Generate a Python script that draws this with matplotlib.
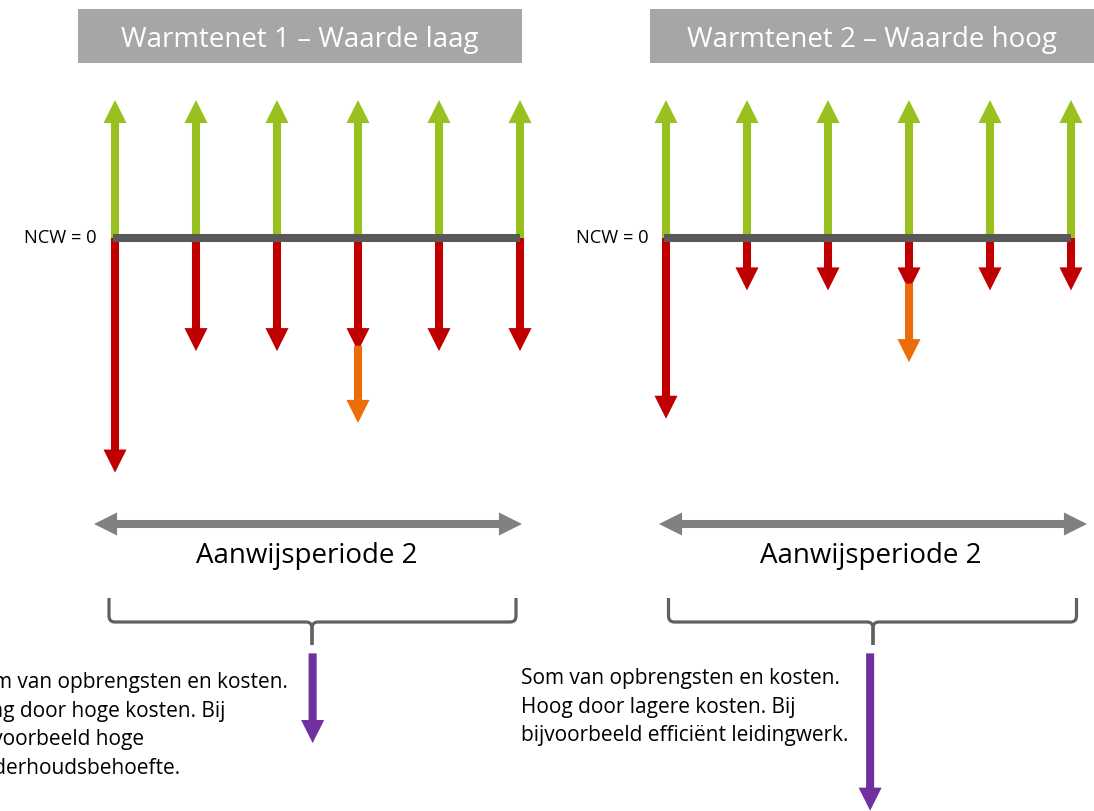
import matplotlib
matplotlib.use('Agg')
import matplotlib.pyplot as plt
from matplotlib.patches import FancyArrowPatch, ArrowStyle, Rectangle, PathPatch
from matplotlib.path import Path

plt.rcParams['font.family'] = ['Open Sans', 'DejaVu Sans']

# ---- data (cash flows per year, revenue = 100) ----
YEARS = [0, 1, 2, 3, 4, 5]
PANEL_TITLES = ['Warmtenet 1 – Waarde laag', 'Warmtenet 2 – Waarde hoog']
REVENUE = [[100, 100, 100, 100, 100, 100],
           [100, 100, 100, 100, 100, 100]]
COSTS = [[-170, -82, -82, -82, -82, -82],
         [-131, -38, -38, -38, -38, -38]]
EXTRA_YEAR = 3
EXTRA_FROM = [-78, -33]
EXTRA_TO = [-134, -90]
NCW_SUM = [-65, -114]
PERIOD_LABEL = 'Aanwijsperiode 2'
NOTES = [
    ['Som van opbrengsten en kosten.', 'Laag door hoge kosten. Bij',
     'bijvoorbeeld hoge', 'onderhoudsbehoefte.'],
    ['Som van opbrengsten en kosten.', 'Hoog door lagere kosten. Bij',
     'bijvoorbeeld efficiënt leidingwerk.'],
]

# ---- kleuren ----
GREEN = '#98c11f'
RED = '#c00000'
ORANGE = '#ec6c0c'
PURPLE = '#7030a0'
AXIS_GRAY = '#595959'
ARROW_GRAY = '#808080'
BRACE_GRAY = '#606060'
BOX_GRAY = '#a6a6a6'

# ---- layout (pixels) ----
W, H = 1094, 811
PX_YEAR = 81
PX_UNIT = 1.38
BASE_Y = 238
ORIGINS = [115, 666]
PANEL_SPAN = [(0, 547), (547, 1094)]
SUM_TOP = -301
SUM_X = [2.44, 2.52]

HEAD = ArrowStyle.Simple(head_length=16.6, head_width=16.6, tail_width=5.8)


def arrow(ax, p0, p1, color, z=2):
    ax.add_patch(FancyArrowPatch(p0, p1, arrowstyle=HEAD, mutation_scale=1,
                                 color=color, lw=0, shrinkA=0, shrinkB=0,
                                 zorder=z, clip_on=False))


def brace(ax, x0, x1, xm, ytop, ymid, ybot, r=6):
    for xe, s in ((x0, 1), (x1, -1)):
        verts = [(xe, ytop), (xe, ymid - r), (xe, ymid), (xe + s * r, ymid),
                 (xm - s * r, ymid), (xm, ymid), (xm, ymid + r), (xm, ybot)]
        codes = [Path.MOVETO, Path.LINETO, Path.CURVE3, Path.CURVE3,
                 Path.LINETO, Path.CURVE3, Path.CURVE3, Path.LINETO]
        ax.add_patch(PathPatch(Path(verts, codes), fill=False, ec=BRACE_GRAY,
                               lw=2.3, capstyle='butt', joinstyle='round'))


fig = plt.figure(figsize=(W / 100, H / 100), dpi=100)
fig.patch.set_facecolor('white')

# overlay for the layout parts
ov = fig.add_axes([0, 0, 1, 1])
ov.set_xlim(0, W)
ov.set_ylim(H, 0)
ov.axis('off')

for p in range(2):
    x0, x1 = PANEL_SPAN[p]
    org = ORIGINS[p]
    ax = fig.add_axes([x0 / W, 0, (x1 - x0) / W, 1])
    ax.set_xlim((x0 - org) / PX_YEAR, (x1 - org) / PX_YEAR)
    ax.set_ylim(-(H - BASE_Y) / PX_UNIT, BASE_Y / PX_UNIT)
    ax.axis('off')
    ax.patch.set_alpha(0)

    for yr, rev, cost in zip(YEARS, REVENUE[p], COSTS[p]):
        arrow(ax, (yr, 0), (yr, rev), GREEN)
        arrow(ax, (yr, 0), (yr, cost), RED)
    arrow(ax, (EXTRA_YEAR, EXTRA_FROM[p]), (EXTRA_YEAR, EXTRA_TO[p]), ORANGE, z=3)
    ax.plot([YEARS[0] - 0.03, YEARS[-1]], [0, 0], color=AXIS_GRAY, lw=5.8,
            solid_capstyle='butt', zorder=4)
    arrow(ax, (SUM_X[p], SUM_TOP), (SUM_X[p], SUM_TOP + NCW_SUM[p]), PURPLE)

# titels
for bx, title in zip([78, 650], PANEL_TITLES):
    ov.add_patch(Rectangle((bx, 8.5), 444, 54, color=BOX_GRAY, lw=0))
    ov.text(bx + 222, 46.5, title, color='white', fontsize=20,
            ha='center', va='baseline')

# NCW = 0
for xr in [97, 649]:
    ov.text(xr, 238, 'NCW = 0', fontsize=13.2, ha='right', va='center')

# periode pijlen
for (a, b, c) in [(94, 522, 307), (659, 1087, 871)]:
    m = (a + b) / 2
    arrow(ov, (m, 524), (a, 524), ARROW_GRAY)
    arrow(ov, (m, 524), (b, 524), ARROW_GRAY)
    ov.text(c, 562.5, PERIOD_LABEL, fontsize=20, ha='center', va='baseline')

# accolades
brace(ov, 109, 516, 312, 598, 622, 645)
brace(ov, 668.5, 1076.5, 873, 598, 622, 645)

# toelichting
for tx, ty, lines in [(-31, 688, NOTES[0]), (521, 684, NOTES[1])]:
    for i, line in enumerate(lines):
        ov.text(tx, ty + i * 28.5, line, fontsize=15, ha='left', va='baseline')

fig.savefig('out.png', dpi=100, facecolor='white')
